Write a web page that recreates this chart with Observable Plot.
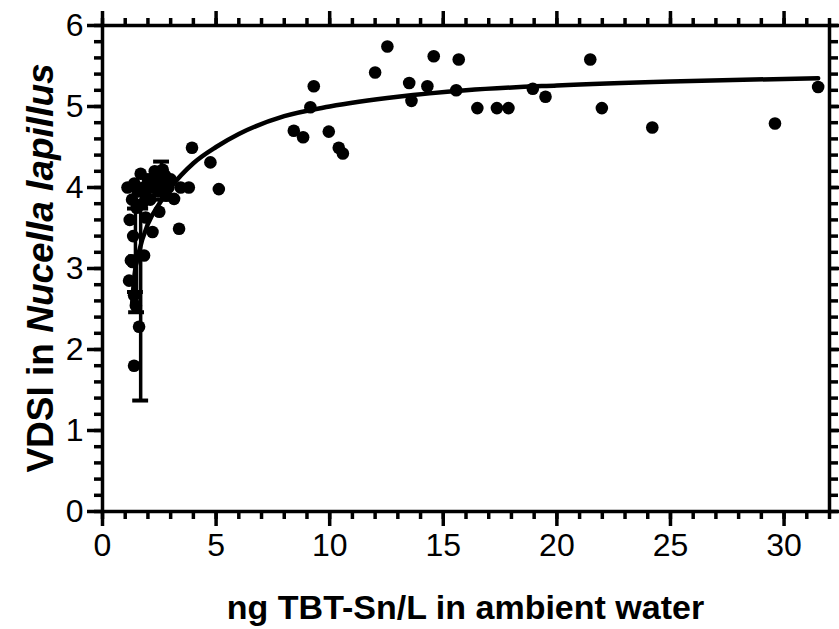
<!DOCTYPE html>
<html><head><meta charset="utf-8">
<script src="https://cdn.jsdelivr.net/npm/d3@7"></script>
<script src="https://cdn.jsdelivr.net/npm/@observablehq/plot@0.6"></script>
<style>
body{margin:0;background:#fff}
#chart svg{font-family:"Liberation Sans",Arial,sans-serif}
</style>
</head><body><div id="chart"></div>
<script>
// ---- data ----
const xTicks = [0, 5, 10, 15, 20, 25, 30];
const yTicks = [0, 1, 2, 3, 4, 5, 6];
const xMinorTicks = [0,1,2,3,4,5,6,7,8,9,10,11,12,13,14,15,16,17,18,19,20,21,22,23,24,25,26,27,28,29,30,31,32];
const yMinorTicks = [0,0.2,0.4,0.6,0.8,1,1.2,1.4,1.6,1.8,2,2.2,2.4,2.6,2.8,3,3.2,3.4,3.6,3.8,4,4.2,4.4,4.6,4.8,5,5.2,5.4,5.6,5.8,6];

// observed points: TBT (ng Sn/L) and VDSI
const tbt = [
  1.1,1.3,1.4,1.55,1.68,1.8,1.9,2.0,2.1,2.2,2.35,2.45,2.6,2.75,2.9,3.0,3.15,3.37,3.44,3.8,
  1.2,1.35,1.9,2.2,1.83,1.32,1.25,1.17,1.39,1.47,1.61,1.39,1.5,2.5,2.8,2.3,2.65,1.75,
  3.94,4.75,5.12,9.3,9.15,8.42,8.83,9.96,10.4,10.58,
  12.0,12.54,13.5,13.6,14.3,14.58,15.57,15.68,16.5,17.36,17.87,18.94,19.5,21.47,21.98,24.2,29.6,31.5
];
const vdsi = [
  4.0,3.85,4.05,3.95,4.17,4.0,3.9,4.1,3.85,4.0,4.12,3.95,4.05,4.15,4.0,4.1,3.86,3.49,4.0,4.0,
  3.6,3.4,3.63,3.45,3.16,3.08,3.1,2.85,2.67,2.54,2.28,1.8,3.75,3.7,3.9,4.2,4.22,3.8,
  4.49,4.31,3.98,5.25,4.99,4.70,4.62,4.69,4.49,4.42,
  5.42,5.74,5.29,5.07,5.25,5.62,5.2,5.58,4.98,4.98,4.98,5.22,5.12,5.58,4.98,4.74,4.79,5.24
];

// fitted curve
const curveTbt  = [1.3, 1.4, 1.6, 2.0, 2.5, 3.0, 4.0, 5.0, 6.0, 8.0, 10.0, 13.0, 16.0, 20.0, 25.0, 31.5];
const curveVdsi = [2.55, 2.9, 3.2, 3.55, 3.8, 4.0, 4.3, 4.5, 4.66, 4.88, 5.0, 5.12, 5.2, 5.26, 5.31, 5.35];

// error bars
const errTbt = [1.68, 1.45, 1.5, 2.6];
const errLo  = [1.37, 2.71, 2.46, 3.85];
const errHi  = [3.74, 3.74, 3.15, 4.32];

// ---- build tables ----
const points = tbt.map((x, i) => ({x, y: vdsi[i]}));
const curve = curveTbt.map((x, i) => ({x, y: curveVdsi[i]}));
const errs = errTbt.map((x, i) => ({x, lo: errLo[i], hi: errHi[i]}));

const W = 839, H = 629, mL = 102, mR = 10, mT = 25, mB = 118;
const sw = 3.5;
const blank = () => "";
const fmt = d3.format("d");

const plot = Plot.plot({
  width: W, height: H,
  marginLeft: mL, marginRight: mR, marginTop: mT, marginBottom: mB,
  x: {domain: [0, 32]},
  y: {domain: [0, 6]},
  style: {background: "#fff", color: "#000", fontFamily: "'Liberation Sans', Arial, sans-serif"},
  marks: [
    // minor ticks
    Plot.axisX(xMinorTicks, {anchor: "bottom", tickSize: 8, tickFormat: blank, label: null, strokeWidth: sw}),
    Plot.axisX(xMinorTicks, {anchor: "top", tickSize: 8, tickFormat: blank, label: null, strokeWidth: sw}),
    Plot.axisY(yMinorTicks, {anchor: "left", tickSize: 8, tickFormat: blank, label: null, strokeWidth: sw}),
    Plot.axisY(yMinorTicks, {anchor: "right", tickSize: 8, tickFormat: blank, label: null, strokeWidth: sw}),
    // major ticks
    Plot.axisX(xTicks, {anchor: "bottom", tickSize: 15, tickPadding: 7, fontSize: 32, tickFormat: fmt, label: null, strokeWidth: sw}),
    Plot.axisX(xTicks, {anchor: "top", tickSize: 15, tickFormat: blank, label: null, strokeWidth: sw}),
    Plot.axisY(yTicks, {anchor: "left", tickSize: 15, tickPadding: 4, fontSize: 32, tickFormat: fmt, label: null, strokeWidth: sw}),
    Plot.axisY(yTicks, {anchor: "right", tickSize: 15, tickFormat: blank, label: null, strokeWidth: sw}),
    Plot.frame({stroke: "#000", strokeWidth: sw}),
    // error bars
    Plot.ruleX(errs, {x: "x", y1: "lo", y2: "hi", stroke: "#000", strokeWidth: 3.5}),
    Plot.ruleY(errs, {y: "lo", x1: d => d.x - 0.35, x2: d => d.x + 0.35, stroke: "#000", strokeWidth: 4}),
    Plot.ruleY(errs, {y: "hi", x1: d => d.x - 0.35, x2: d => d.x + 0.35, stroke: "#000", strokeWidth: 4}),
    // fitted curve
    Plot.line(curve, {x: "x", y: "y", curve: "monotone-x", stroke: "#000", strokeWidth: 4.5}),
    // observations
    Plot.dot(points, {x: "x", y: "y", r: 6.3, fill: "#000", stroke: "none"})
  ]
});

document.getElementById("chart").appendChild(plot);

// make axis ticks and frame heavy, like the reference
plot.querySelectorAll('[aria-label$="tick"], [aria-label$="tick"] *, [aria-label="frame"], [aria-label="frame"] *').forEach(el => {
  el.setAttribute("stroke-width", sw);
  el.style.setProperty("stroke-width", sw + "px", "important");
  el.setAttribute("stroke", "#000");
  el.setAttribute("stroke-opacity", 1);
});

// axis titles (mixed styles)
const svg = d3.select(plot);
svg.append("text")
  .attr("x", (mL + W - mR) / 2).attr("y", 619)
  .attr("text-anchor", "middle")
  .attr("font-size", 34).attr("font-weight", "bold")
  .attr("font-family", "'Liberation Sans', Arial, sans-serif")
  .attr("fill", "#000")
  .text("ng TBT-Sn/L in ambient water");

const yt = svg.append("text")
  .attr("transform", `translate(53,${(mT + H - mB) / 2}) rotate(-90)`)
  .attr("text-anchor", "middle")
  .attr("font-size", 37).attr("font-weight", "bold")
  .attr("font-family", "'Liberation Sans', Arial, sans-serif")
  .attr("fill", "#000");
yt.append("tspan").text("VDSI in ");
yt.append("tspan").attr("font-style", "italic").text("Nucella lapillus");
</script>
</body></html>
